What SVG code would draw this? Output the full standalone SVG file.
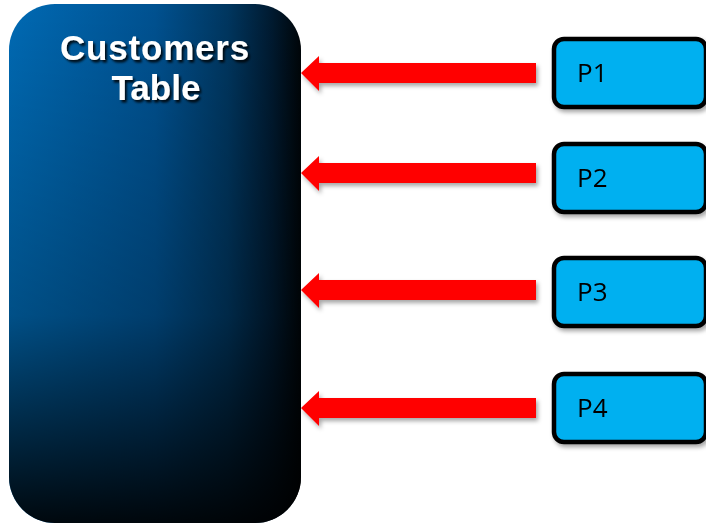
<svg xmlns="http://www.w3.org/2000/svg" width="706" height="524" viewBox="0 0 706 524">
<defs>
<linearGradient id="gh" x1="0" y1="0" x2="1" y2="0">
<stop offset="0" stop-color="#006ab4"/>
<stop offset="0.5" stop-color="#005190"/>
<stop offset="0.75" stop-color="#00365f"/>
<stop offset="0.9" stop-color="#001a30"/>
<stop offset="1" stop-color="#000508"/>
</linearGradient>
<linearGradient id="gv" x1="0" y1="0" x2="0" y2="1">
<stop offset="0" stop-color="#000" stop-opacity="0"/>
<stop offset="0.6" stop-color="#000" stop-opacity="0.25"/>
<stop offset="1" stop-color="#000" stop-opacity="0.92"/>
</linearGradient>
<filter id="ts" x="-10%" y="-10%" width="130%" height="140%">
<feDropShadow dx="2" dy="2.5" stdDeviation="1" flood-color="#000" flood-opacity="0.85"/>
</filter>
<filter id="sh" x="-10%" y="-20%" width="130%" height="160%">
<feDropShadow dx="2" dy="3" stdDeviation="2" flood-color="#000" flood-opacity="0.35"/>
</filter>
<style>
.title{font-family:"Liberation Sans",Arial,sans-serif;font-weight:bold;font-size:35px;fill:#fff;text-anchor:middle}
.pbox{fill:#00b0f0;stroke:#000;stroke-width:4.5}
.plabel{font-family:"Open Sans","Liberation Sans",sans-serif;font-size:26px;fill:#000}
.arrow{fill:#ff0000}
</style>
</defs>
<g id="customers">
<rect x="9" y="4" width="292" height="519" rx="46" ry="46" fill="url(#gh)"/>
<rect x="9" y="4" width="292" height="519" rx="46" ry="46" fill="url(#gv)"/>
<g filter="url(#ts)">
<text class="title" x="155" y="60" letter-spacing="0.8">Customers</text>
<text class="title" x="156" y="100">Table</text>
</g>
</g>
<g id="connectors" filter="url(#sh)">
<polygon class="arrow" points="301,73 319,56 319,63 536,63 536,83 319,83 319,91"/>
<polygon class="arrow" points="301,173 319,156 319,163 536,163 536,183 319,183 319,191"/>
<polygon class="arrow" points="301,290 319,273 319,280 536,280 536,300 319,300 319,308"/>
<polygon class="arrow" points="301,408 319,391 319,398 536,398 536,418 319,418 319,426"/>
</g>
<g id="p1" filter="url(#sh)">
<rect class="pbox" x="554" y="39" width="152" height="68" rx="10"/>
<text class="plabel" x="577" y="82">P1</text>
</g>
<g id="p2" filter="url(#sh)">
<rect class="pbox" x="554" y="144" width="152" height="68" rx="10"/>
<text class="plabel" x="577" y="187">P2</text>
</g>
<g id="p3" filter="url(#sh)">
<rect class="pbox" x="554" y="258" width="152" height="68" rx="10"/>
<text class="plabel" x="577" y="301">P3</text>
</g>
<g id="p4" filter="url(#sh)">
<rect class="pbox" x="554" y="374" width="152" height="68" rx="10"/>
<text class="plabel" x="577" y="417">P4</text>
</g>
</svg>
